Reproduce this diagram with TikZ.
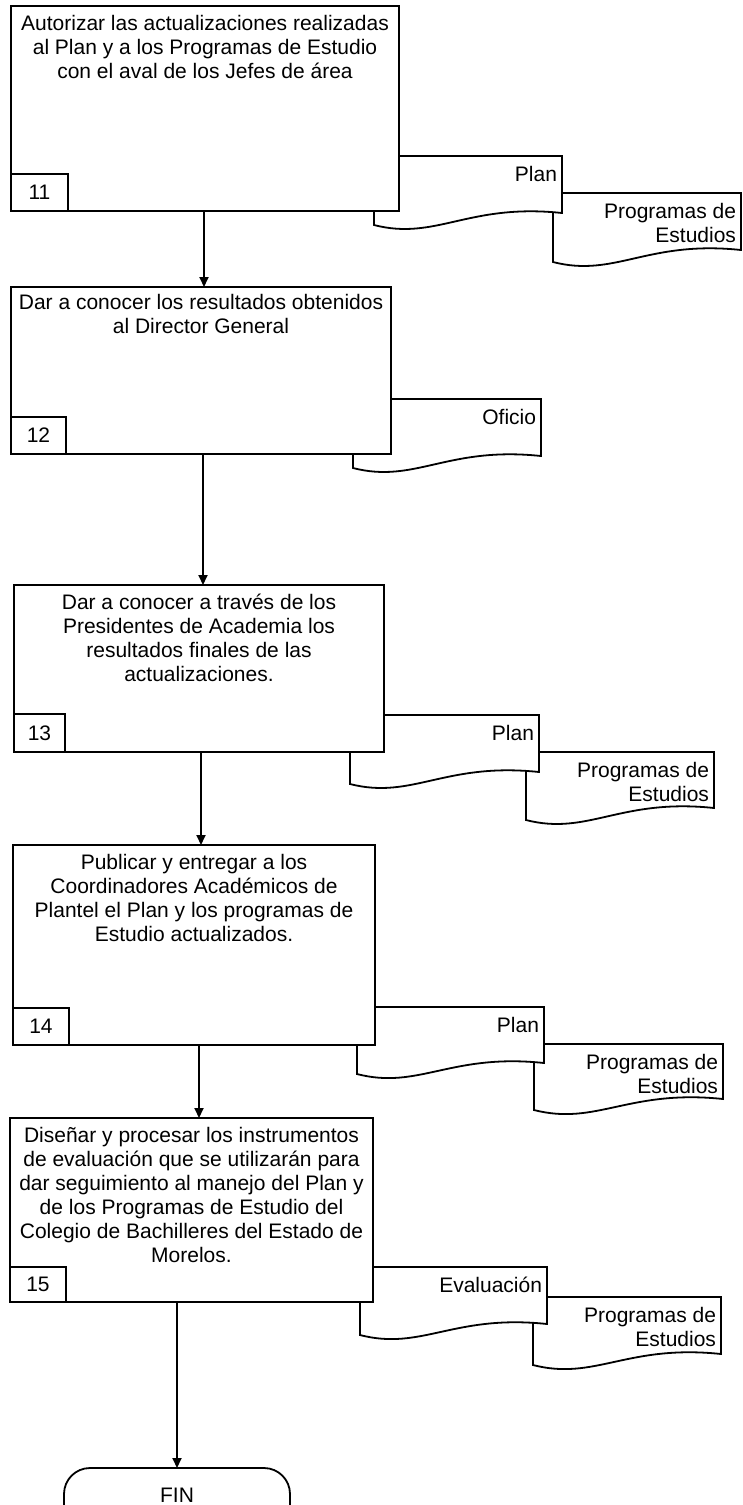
\documentclass[tikz,border=0pt]{standalone}
\usepackage{fontspec}
\setmainfont{Liberation Sans}
\usetikzlibrary{arrows.meta}

% document symbol: flat top, wavy bottom (left low, right high)
% #1 left, #2 top, #3 right, #4 bottom-left, #5 bottom-right
\newcommand\drawdoc[5]{%
  \filldraw[docshape] (#1,#2) -- (#3,#2) -- (#3,#5)
    .. controls ({#1+0.5*(#3-#1)},{#5-10}) and ({#1+0.33*(#3-#1)},{#4+16}) .. (#1,#4) -- cycle;}

\begin{document}
\begin{tikzpicture}[x=1pt,y=-1pt,
  line width=1.8pt,
  every node/.style={font=\fontsize{21}{24}\selectfont, inner sep=0pt, outer sep=0pt},
  procbox/.style={draw, fill=white, anchor=north west},
  numbox/.style={draw, fill=white, anchor=south west, minimum height=37pt},
  proctext/.style={anchor=north, align=center},
  docshape/.style={draw, fill=white, line join=miter},
  doctext/.style={anchor=north east, align=right},
  flow/.style={-{Triangle[width=9pt,length=10pt]}},
  term/.style={draw, fill=white, rounded corners=26pt, minimum width=226pt,
    text height=34.5pt, text depth=45pt}
]
\useasboundingbox (0,0) rectangle (743,1505);
\clip (0,0) rectangle (743,1505);

% ---- step 11 ----
\drawdoc{553}{193}{741}{262}{250}
\node[doctext] (d11b) at (736,203) {Programas de\\Estudios};
\drawdoc{374}{156}{562}{225}{213}
\node[doctext] (d11a) at (557,166) {Plan};
\node[procbox, minimum width=388pt, minimum height=205pt] (b11) at (11,6) {};
\node[numbox, minimum width=57pt] (n11) at (b11.south west) {11};
\node[proctext] (t11) at (205,15.5) {Autorizar las actualizaciones realizadas\\al Plan y a los Programas de Estudio\\con el aval de los Jefes de área};

% ---- step 12 ----
\drawdoc{353}{399}{541}{468}{456}
\node[doctext] (d12a) at (536,409) {Oficio};
\node[procbox, minimum width=380pt, minimum height=167pt] (b12) at (11,287) {};
\node[numbox, minimum width=55pt] (n12) at (b12.south west) {12};
\node[proctext] (t12) at (201,294) {Dar a conocer los resultados obtenidos\\al Director General};

% ---- step 13 ----
\drawdoc{526}{752}{714}{820}{808}
\node[doctext] (d13b) at (709,762) {Programas de\\Estudios};
\drawdoc{350}{715}{539}{784}{772}
\node[doctext] (d13a) at (534,725) {Plan};
\node[procbox, minimum width=370pt, minimum height=167pt] (b13) at (14,585) {};
\node[numbox, minimum width=51pt, minimum height=38pt] (n13) at (b13.south west) {13};
\node[proctext] (t13) at (199,594.5) {Dar a conocer a través de los\\Presidentes de Academia los\\resultados finales de las\\actualizaciones.};

% ---- step 14 ----
\drawdoc{534}{1044}{723}{1110}{1099}
\node[doctext] (d14b) at (718,1054) {Programas de\\Estudios};
\drawdoc{357}{1007}{544}{1074}{1063}
\node[doctext] (d14a) at (539,1017) {Plan};
\node[procbox, minimum width=362pt, minimum height=200pt] (b14) at (13,845) {};
\node[numbox, minimum width=56pt] (n14) at (b14.south west) {14};
\node[proctext] (t14) at (194,854) {Publicar y entregar a los\\Coordinadores Académicos de\\Plantel el Plan y los programas de\\Estudio actualizados.};

% ---- step 15 ----
\drawdoc{533}{1297}{721}{1365}{1354}
\node[doctext] (d15b) at (716,1307) {Programas de\\Estudios};
\drawdoc{360}{1267}{547}{1335}{1324}
\node[doctext] (d15a) at (542,1277) {Evaluación};
\node[procbox, minimum width=363pt, minimum height=184pt] (b15) at (10,1118) {};
\node[numbox, minimum width=56pt, minimum height=35pt] (n15) at (b15.south west) {15};
\node[proctext] (t15) at (191.5,1127.5) {Diseñar y procesar los instrumentos\\de evaluación que se utilizarán para\\dar seguimiento al manejo del Plan y\\de los Programas de Estudio del\\Colegio de Bachilleres del Estado de\\Morelos.};

% ---- end (runs past the lower edge of the sheet) ----
\node[term, anchor=north] (fin) at (177,1468) {FIN};

% ---- flow ----
\draw[flow] ([xshift=-1pt]b11.south) -- ([xshift=-1pt]b11.south |- b12.north);
\draw[flow] ([xshift=2pt]b12.south) -- ([xshift=2pt]b12.south |- b13.north);
\draw[flow] ([xshift=2pt]b13.south) -- ([xshift=2pt]b13.south |- b14.north);
\draw[flow] ([xshift=5pt]b14.south) -- ([xshift=5pt]b14.south |- b15.north);
\draw[flow] (b15.south -| fin.north) -- (fin.north);
\end{tikzpicture}
\end{document}
